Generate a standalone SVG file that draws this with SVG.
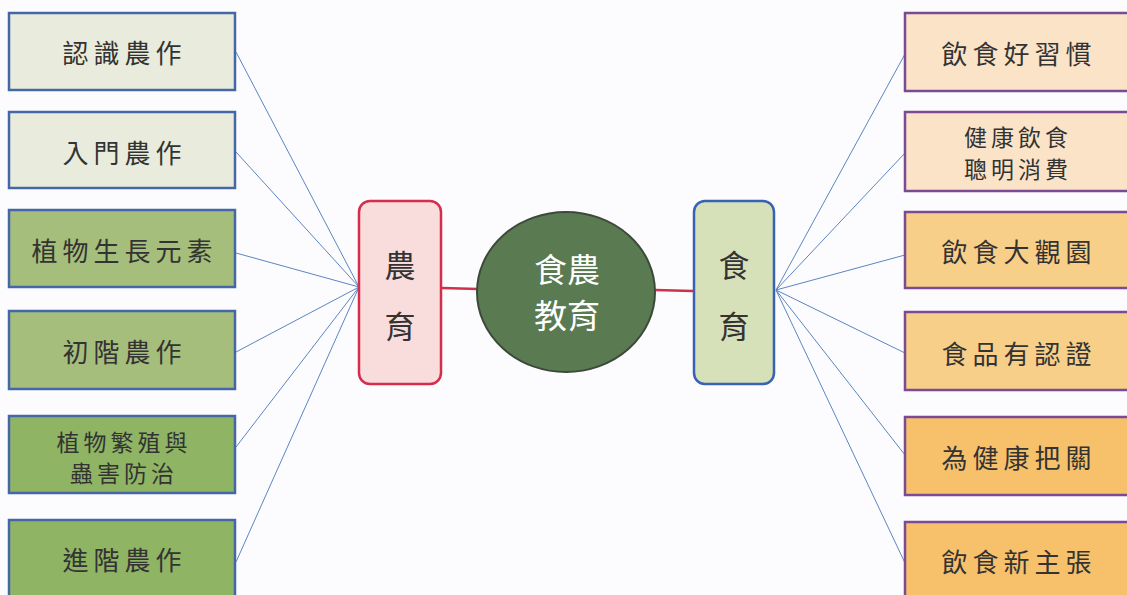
<svg xmlns="http://www.w3.org/2000/svg" width="1127" height="595" viewBox="0 0 1127 595">
<style>
.t{font-family:"Noto Sans CJK TC","Noto Sans CJK SC",sans-serif;fill:#333;text-anchor:middle;dominant-baseline:central}
.l1{font-size:26px;letter-spacing:5px}
.l2{font-size:23px;letter-spacing:4px}
.bl{stroke:#4467a8;stroke-width:2.5}
.pr{stroke:#7a4a94;stroke-width:2.5}
.cn{stroke:#5b86c2;stroke-width:1;fill:none}
</style>
<rect width="1127" height="595" fill="#fcfbfd"/>
<g id="connectors">
<line class="cn" x1="236" y1="52" x2="359" y2="287"/>
<line class="cn" x1="236" y1="152" x2="359" y2="287"/>
<line class="cn" x1="236" y1="253" x2="359" y2="287"/>
<line class="cn" x1="236" y1="352" x2="359" y2="287"/>
<line class="cn" x1="236" y1="447" x2="359" y2="287"/>
<line class="cn" x1="236" y1="562" x2="359" y2="287"/>
<line class="cn" x1="905" y1="54" x2="776" y2="290"/>
<line class="cn" x1="905" y1="153" x2="776" y2="290"/>
<line class="cn" x1="905" y1="255" x2="776" y2="290"/>
<line class="cn" x1="905" y1="353" x2="776" y2="290"/>
<line class="cn" x1="905" y1="455" x2="776" y2="290"/>
<line class="cn" x1="905" y1="563" x2="776" y2="290"/>
<line x1="442" y1="288" x2="478" y2="289" stroke="#d0304a" stroke-width="2.5"/>
<line x1="655" y1="290" x2="693" y2="291" stroke="#d0304a" stroke-width="2.5"/>
</g>
<g id="n-l1"><rect class="bl" x="9" y="13" width="226" height="77" fill="#e9ecdc"/><text class="t l1" x="124.5" y="51">認識農作</text></g>
<g id="n-l2"><rect class="bl" x="9" y="112" width="226" height="76" fill="#e9ecdc"/><text class="t l1" x="124.5" y="151">入門農作</text></g>
<g id="n-l3"><rect class="bl" x="9" y="210" width="226" height="77" fill="#a5be7b"/><text class="t l1" x="124.5" y="249">植物生長元素</text></g>
<g id="n-l4"><rect class="bl" x="9" y="311" width="226" height="78" fill="#a5be7b"/><text class="t l1" x="124.5" y="350">初階農作</text></g>
<g id="n-l5"><rect class="bl" x="9" y="416" width="226" height="77" fill="#8fb464"/><text class="t l2" x="124" y="441">植物繁殖與</text><text class="t l2" x="124" y="472">蟲害防治</text></g>
<g id="n-l6"><rect class="bl" x="9" y="520" width="226" height="80" fill="#8fb464"/><text class="t l1" x="124.5" y="558">進階農作</text></g>
<g id="n-nongyu"><rect x="359" y="201" width="82" height="183" rx="11" fill="#f9dcdc" stroke="#d42e4c" stroke-width="2.5"/><text class="t" x="400" y="263" font-size="31">農</text><text class="t" x="400" y="324" font-size="31">育</text></g>
<g id="n-center"><ellipse cx="566" cy="292" rx="89" ry="80" fill="#5a7a52" stroke="#3c4a3a" stroke-width="2"/><text class="t" x="567" y="268" font-size="33" style="fill:#fff">食農</text><text class="t" x="567" y="314" font-size="33" style="fill:#fff">教育</text></g>
<g id="n-shiyu"><rect x="694" y="201" width="80" height="183" rx="11" fill="#d6e1b9" stroke="#3a62b2" stroke-width="2.5"/><text class="t" x="734" y="263" font-size="31">食</text><text class="t" x="734" y="324" font-size="31">育</text></g>
<g id="n-r1"><rect class="pr" x="905" y="13" width="226" height="78" fill="#fbe3c8"/><text class="t l1" x="1019" y="52">飲食好習慣</text></g>
<g id="n-r2"><rect class="pr" x="905" y="112" width="226" height="79" fill="#fbe3c8"/><text class="t l2" x="1018" y="136">健康飲食</text><text class="t l2" x="1018" y="168">聰明消費</text></g>
<g id="n-r3"><rect class="pr" x="905" y="212" width="226" height="76" fill="#f8cf88"/><text class="t l1" x="1019" y="250">飲食大觀園</text></g>
<g id="n-r4"><rect class="pr" x="905" y="312" width="226" height="78" fill="#f8cf88"/><text class="t l1" x="1019" y="352">食品有認證</text></g>
<g id="n-r5"><rect class="pr" x="905" y="417" width="226" height="78" fill="#f7c16c"/><text class="t l1" x="1019" y="456">為健康把關</text></g>
<g id="n-r6"><rect class="pr" x="905" y="522" width="226" height="80" fill="#f7c16c"/><text class="t l1" x="1019" y="560">飲食新主張</text></g>
</svg>
